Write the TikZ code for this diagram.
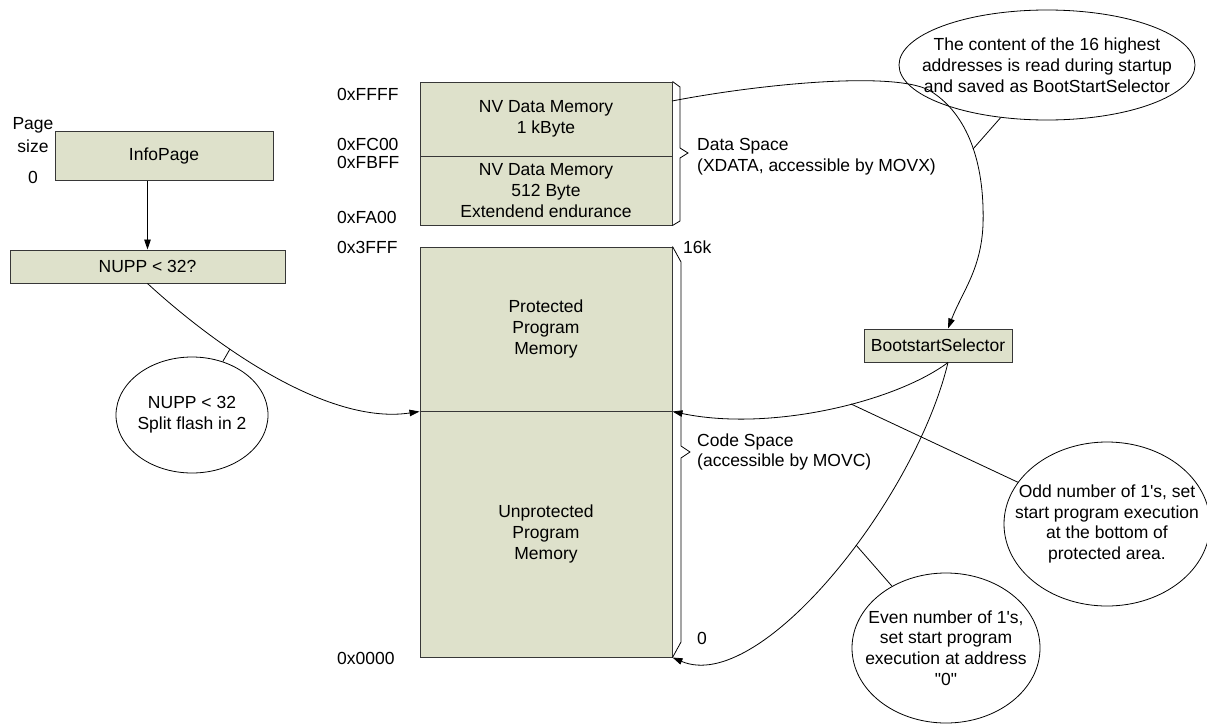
\documentclass[tikz,border=0pt]{standalone}
\usepackage{fontspec}
\setmainfont{Liberation Sans}
\usetikzlibrary{arrows.meta,shapes.geometric}
\definecolor{boxfill}{RGB}{222,225,203}
\definecolor{boxline}{RGB}{55,55,55}
\newcommand{\sq}{\XeTeXglyph\XeTeXcharglyph"0027\relax}
\newcommand{\dq}{\XeTeXglyph\XeTeXcharglyph"0022\relax}
\begin{document}
\begin{tikzpicture}[x=1pt,y=-1pt,
  every node/.style={font=\fontsize{17.5}{20.8}\selectfont, inner sep=0pt},
  membox/.style={draw=boxline, fill=boxfill, line width=1pt, minimum width=252pt, align=center},
  tagbox/.style={draw=boxline, fill=boxfill, line width=1pt, align=center},
  bubble/.style={draw, ellipse, line width=0.8pt},
  conn/.style={line width=0.8pt, -{Triangle[length=10pt,width=6.5pt]}},
  callout/.style={line width=0.8pt},
  bracket/.style={line width=0.8pt},
  addr/.style={anchor=west},
  side/.style={anchor=west, align=left}]
\useasboundingbox (0,0) rectangle (1207,723);

% boxes
\node[tagbox, minimum width=218pt, minimum height=49pt] (info) at (164,155.5) {InfoPage};
\node[tagbox, minimum width=275pt, minimum height=33pt] (nupp) at (147.5,266.5) {NUPP < 32?};
\node[membox, minimum height=74pt] (nv1) at (546,119) {NV Data Memory\\1 kByte};
\node[membox, minimum height=69pt] (nv2) at (546,190.5) {NV Data Memory\\512 Byte\\Extendend endurance};
\node[membox, minimum height=164pt] (prot) at (546,329) {Protected\\Program\\Memory};
\node[membox, minimum height=246pt] (unprot) at (546,534) {Unprotected\\Program\\Memory};
\node[tagbox, minimum width=148pt, minimum height=33pt] (bss) at (938,345.5) {BootstartSelector};

% bubbles
\node[bubble, minimum width=296pt, minimum height=110pt,
  label={[align=center]center:The content of the 16 highest\\addresses is read during startup\\and saved as BootStartSelector}] (note1) at (1047,65) {};
\node[bubble, minimum width=152pt, minimum height=116pt,
  label={[align=center]center:NUPP < 32\\Split flash in 2}] (split) at (192,415) {};
\node[bubble, minimum width=206pt, minimum height=164pt,
  label={[align=center]center:Odd number of 1\sq s, set\\start program execution\\at the bottom of\\protected area.}] (odd) at (1107,524) {};
\node[bubble, minimum width=188pt, minimum height=150pt,
  label={[align=center]center:Even number of 1\sq s,\\set start program\\execution at address\\\dq 0\dq}] (even) at (946,648) {};

% side labels
\node (pg) at (33,125) {Page};
\node (sz) at (33,146) {size};
\node (zr) at (33,177) {0};
\node[addr] (aFFFF) at (337,94) {0xFFFF};
\node[addr] (aFC00) at (337,144) {0xFC00};
\node[addr] (aFBFF) at (337,162) {0xFBFF};
\node[addr] (aFA00) at (337,217) {0xFA00};
\node[addr] (a3FFF) at (337,247) {0x3FFF};
\node[addr] (a0000) at (337,658) {0x0000};
\node[addr] (k16) at (683,247) {16k};
\node[addr] (kzero) at (697,638) {0};
\node[side] (dspace) at (697,157) {Data Space\\(XDATA, accessible by MOVX)};
\node[side] (cspace) at (697,452) {Code Space\\(accessible by MOVC)};

% brackets
\draw[bracket] (nv1.north east) -- (680,87) -- (680,148) -- (688,153) -- (680,158) -- (680,221) -- (nv2.south east);
\draw[bracket] (prot.north east) -- (681,262) -- (681,446) -- (690,452) -- (681,458) -- (681,642) -- (unprot.south east);

% connectors
\draw[conn] (nupp.north |- info.south) -- (nupp.north);
\draw[conn] (nupp.south) .. controls (220,350) and (330,425) .. (prot.south west);
\coordinate (c1s) at (672,101);
\draw[conn] (c1s) .. controls (760,84) and (900,70) .. (932,92)
  .. controls (966,114) and (985,160) .. (983,225)
  .. controls (981,270) and (962,292) .. ([xshift=10pt]bss.north);
\draw[conn] ([xshift=10pt]bss.south) .. controls (895,402) and (770,432) .. (prot.south east);
\draw[conn] ([xshift=10pt]bss.south) .. controls (915,500) and (760,695) .. (unprot.south east);

% callouts
\coordinate (k1) at (973,149);
\coordinate (k2) at (230,349);
\coordinate (k3) at (851,404);
\coordinate (k4) at (856,545);
\draw[callout] (note1) -- (k1);
\draw[callout] (split) -- (k2);
\draw[callout] (odd) -- (k3);
\draw[callout] (even) -- (k4);
\end{tikzpicture}
\end{document}
